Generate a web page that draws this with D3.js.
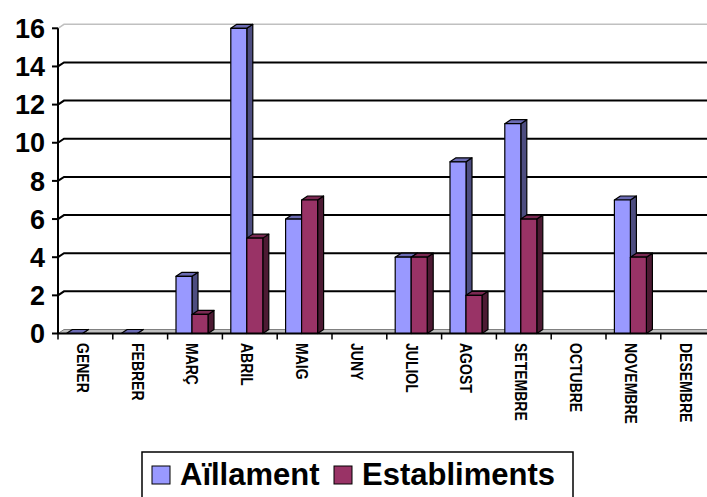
<!DOCTYPE html>
<html lang="ca">
  <head>
    <meta charset="UTF-8" />
    <title>Aïllament i Establiments</title>
    <script src="https://d3js.org/d3.v7.min.js"></script>
    <style>
      body {
        margin: 0;
        background: #fff;
        font-family: "Liberation Sans", Arial, sans-serif;
      }
      svg {
        display: block;
      }
      .ylabel {
        font-size: 27px;
        font-weight: bold;
      }
      .xlabel {
        font-size: 14px;
        font-weight: bold;
      }
      .legend text {
        font-size: 31px;
        font-weight: bold;
      }
    </style>
  </head>
  <body>
    <div id="chart"></div>
    <script>
      // dades
      const months = ["GENER", "FEBRER", "MARÇ", "ABRIL", "MAIG", "JUNY",
        "JULIOL", "AGOST", "SETEMBRE", "OCTUBRE", "NOVEMBRE", "DESEMBRE"];
      const seriesNames = ["Aïllament", "Establiments"];
      const aillament = [0, 0, 3, 16, 6, null, 4, 9, 11, null, 7, null];
      const establiments = [null, null, 1, 5, 7, null, 4, 2, 6, null, 4, null];
      const yTicks = [0, 2, 4, 6, 8, 10, 12, 14, 16];

      const width = 707;
      const height = 497;
      const dx = 6, dy = -4; // profunditat 3D

      const colors = [
        { front: "#9999ff", side: "#4d4d80", top: "#6b6bb3" },
        { front: "#993366", side: "#4d1a33", top: "#7a2952" }
      ];

      const svg = d3.select("#chart").append("svg")
        .attr("width", width)
        .attr("height", height);

      const x = d3.scaleBand().domain(months).range([58, 58 + 12 * 54.8]);
      const y = d3.scaleLinear().domain([0, 16]).range([333.5, 28.3]);

      const xs = d3.scaleBand().domain(seriesNames)
        .range([8.4, 8.4 + 32]);

      // terra
      svg.append("path")
        .attr("d", `M58,${y(0)} L${58 + dx},${y(0) + dy} L${width + 10},${y(0) + dy} L${width + 10},${y(0)} Z`)
        .attr("fill", "#c0c0c0")
        .attr("stroke", "#808080")
        .attr("stroke-width", 1);

      // línies de quadrícula
      yTicks.filter(d => d > 0).forEach(v => {
        const yy = y(v);
        svg.append("path")
          .attr("d", `M58,${yy} L${58 + dx},${yy + dy} L${width + 10},${yy + dy}`)
          .attr("fill", "none")
          .attr("stroke", v === 16 ? "#c0c0c0" : "#000")
          .attr("stroke-width", v === 16 ? 1.5 : 2);
      });

      // barres
      const data = [aillament, establiments];
      months.forEach((m, i) => {
        data.forEach((serie, s) => {
          const v = serie[i];
          if (v === null) return;
          const x0 = x(m) + xs(seriesNames[s]);
          const w = xs.bandwidth();
          const y0 = y(0), y1 = y(v);
          const g = svg.append("g")
            .attr("stroke", "#000")
            .attr("stroke-width", 1.2)
            .attr("stroke-linejoin", "round");
          // costat
          g.append("path")
            .attr("d", `M${x0 + w},${y1} L${x0 + w + dx},${y1 + dy} L${x0 + w + dx},${y0 + dy} L${x0 + w},${y0} Z`)
            .attr("fill", colors[s].side);
          // sostre
          g.append("path")
            .attr("d", `M${x0},${y1} L${x0 + dx},${y1 + dy} L${x0 + w + dx},${y1 + dy} L${x0 + w},${y1} Z`)
            .attr("fill", colors[s].top);
          // cara frontal
          g.append("rect")
            .attr("x", x0)
            .attr("y", y1)
            .attr("width", w)
            .attr("height", y0 - y1)
            .attr("fill", colors[s].front);
        });
      });

      // eix Y
      svg.append("line")
        .attr("x1", 58).attr("x2", 58)
        .attr("y1", y(16)).attr("y2", y(0))
        .attr("stroke", "#000").attr("stroke-width", 2);

      svg.selectAll(".ytick")
        .data(yTicks)
        .join("line")
        .attr("x1", 52).attr("x2", 58)
        .attr("y1", d => y(d)).attr("y2", d => y(d))
        .attr("stroke", "#000").attr("stroke-width", 2);

      svg.selectAll(".ylabel")
        .data(yTicks)
        .join("text")
        .attr("class", "ylabel")
        .attr("x", 45)
        .attr("y", d => y(d))
        .attr("dy", "0.36em")
        .attr("text-anchor", "end")
        .text(d => d);

      // eix X
      svg.append("line")
        .attr("x1", 58).attr("x2", width + 10)
        .attr("y1", y(0)).attr("y2", y(0))
        .attr("stroke", "#000").attr("stroke-width", 2);

      svg.selectAll(".xtick")
        .data(months)
        .join("line")
        .attr("x1", d => x(d)).attr("x2", d => x(d))
        .attr("y1", y(0)).attr("y2", y(0) + 6)
        .attr("stroke", "#000").attr("stroke-width", 1.5);

      svg.selectAll(".xlabel")
        .data(months)
        .join("text")
        .attr("class", "xlabel")
        .attr("transform", d => `translate(${x(d) + x.bandwidth() / 2 - 3},343) rotate(90) scale(1,1.12)`)
        .attr("dy", "0.36em")
        .text(d => d);

      // llegenda
      const legend = svg.append("g").attr("class", "legend");
      legend.append("rect")
        .attr("x", 142).attr("y", 452)
        .attr("width", 431).attr("height", 60)
        .attr("fill", "#fff")
        .attr("stroke", "#000").attr("stroke-width", 1.5);

      const legendX = [152, 334];
      seriesNames.forEach((name, i) => {
        legend.append("rect")
          .attr("x", legendX[i]).attr("y", 466)
          .attr("width", 18).attr("height", 18)
          .attr("fill", colors[i].front)
          .attr("stroke", "#000").attr("stroke-width", 1);
        legend.append("text")
          .attr("x", legendX[i] + 28)
          .attr("y", 485)
          .text(name);
      });
    </script>
  </body>
</html>
